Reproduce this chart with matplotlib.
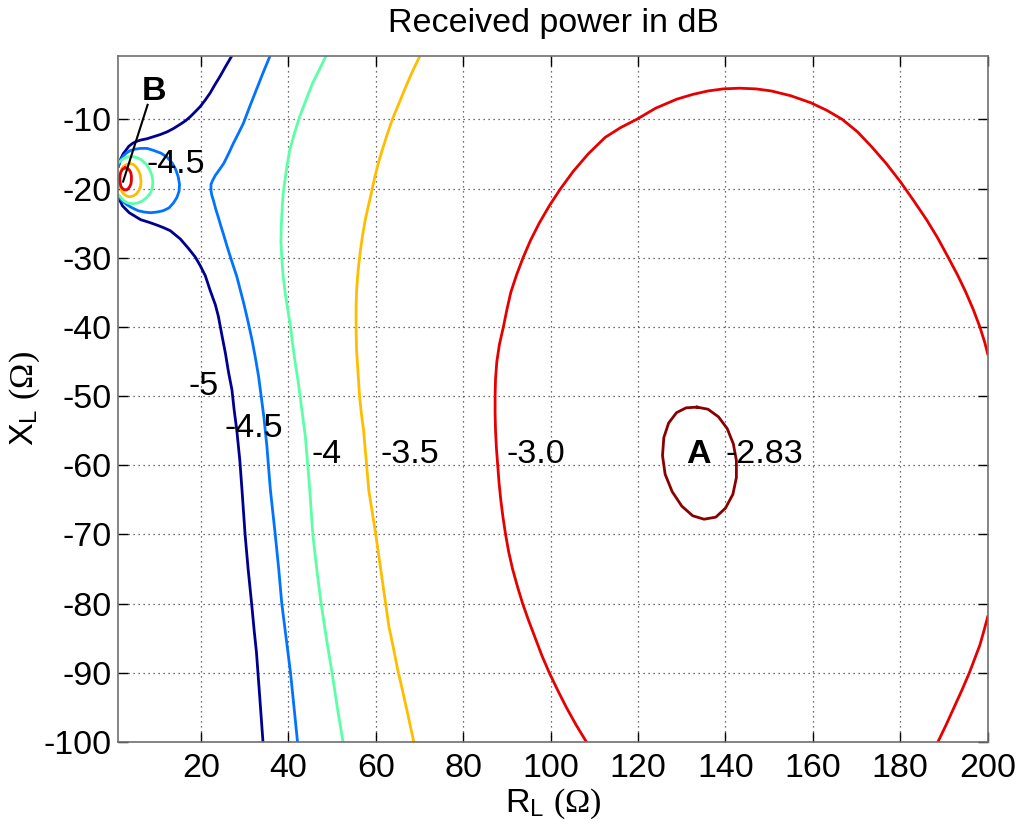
import matplotlib
matplotlib.use("Agg")
import matplotlib.pyplot as plt

plt.rcParams['font.family'] = ['Liberation Sans', 'DejaVu Sans']
plt.rcParams['mathtext.fontset'] = 'custom'
plt.rcParams['mathtext.rm'] = 'Liberation Serif'
plt.rcParams['mathtext.sf'] = 'Liberation Sans'
plt.rcParams['mathtext.it'] = 'Liberation Serif:italic'
plt.rcParams['axes.unicode_minus'] = False

# contour lines (R_L, X_L)
# -5 dB
c5_up_x = [27.05, 25.7, 24.4, 23.2, 22.1, 21.0, 19.85, 18.7, 17.6, 16.5, 15.3, 13.8, 12.3, 10.7,
           9.2, 7.7, 6.2, 5.2, 4.3, 3.5, 2.8, 2.2, 1.67, 1.15]
c5_up_y = [-0.85, -2.3, -3.76, -5.0, -6.2, -7.2, -8.15, -8.9, -9.6, -10.2, -10.7, -11.3, -11.8,
           -12.2, -12.5, -12.8, -13.0, -13.2, -13.5, -13.9, -14.5, -15.0, -15.7, -16.7]
c5_lo_x = [1.15, 2.05, 3.6, 6.2, 8.2, 10.0, 11.6, 13.0, 15.3, 17.2, 18.7, 19.8, 21.0, 22.1, 23.3,
           24.0, 24.8, 25.6, 26.3, 27.1, 27.6, 28.2, 28.9, 29.4, 30.1, 30.8, 31.6, 32.2, 32.7,
           33.4, 34.2]
c5_lo_y = [-21.3, -22.5, -23.5, -24.5, -24.9, -25.3, -25.7, -26.1, -27.3, -28.7, -29.9, -31.1,
           -32.6, -34.7, -36.8, -38.5, -41.2, -43.8, -46.5, -49.1, -52.0, -54.9, -59.3, -63.6,
           -70.0, -75.0, -80.0, -84.0, -87.0, -93.0, -100.0]
# -4.5 dB
c45_x = [35.8, 34.2, 32.7, 31.2, 29.7, 28.6, 27.4, 26.3, 25.2, 24.2, 23.3, 22.7, 22.3, 22.3,
         22.5, 22.9, 23.4, 24.0, 24.6, 25.2, 26.0, 27.1, 28.2, 29.8, 30.8, 31.7, 32.5, 33.2,
         33.8, 34.4, 35.1, 35.5, 35.9, 37.0, 37.8, 38.5, 39.5, 40.5, 41.3, 42.1]
c45_y = [-0.85, -3.3, -5.7, -8.1, -10.6, -12.0, -13.5, -15.0, -16.4, -17.3, -18.1, -18.8, -19.4,
         -20.3, -21.0, -21.8, -23.0, -24.2, -25.5, -26.7, -28.4, -30.6, -32.7, -36.6, -39.3,
         -41.9, -44.6, -47.2, -50.1, -53.0, -57.3, -60.5, -63.6, -70.0, -75.0, -80.0, -85.0,
         -90.0, -95.0, -100.0]
c45b_x = [1.15, 1.6, 2.4, 3.1, 3.9, 5.0, 6.2, 7.7, 9.2, 10.9, 12.3, 13.4, 14.2, 14.8, 15.1, 15.0,
          14.5, 13.7, 12.7, 11.4, 10.0, 8.5, 7.0, 5.6, 4.3, 3.2, 2.4, 1.7, 1.15]
c45b_y = [-16.8, -15.9, -15.2, -14.8, -14.5, -14.3, -14.2, -14.2, -14.5, -14.9, -15.5, -16.3,
          -17.2, -18.3, -19.4, -20.4, -21.3, -22.1, -22.8, -23.2, -23.4, -23.5, -23.4, -23.2,
          -22.8, -22.4, -22.0, -21.6, -21.2]
# -4 dB
c4_x = [48.6, 47.1, 45.6, 44.1, 42.6, 41.4, 40.3, 39.7, 39.2, 38.8, 38.6, 38.4, 38.3, 38.5, 38.8,
        39.3, 39.9, 40.5, 41.0, 41.6, 42.2, 42.7, 43.3, 43.9, 44.4, 44.9, 45.6, 46.5, 47.5, 48.7,
        50.0, 51.2, 52.5]
c4_y = [-0.85, -2.8, -4.7, -7.1, -9.6, -12.0, -14.5, -16.7, -18.9, -20.8, -22.8, -25.2, -27.7,
        -30.0, -32.6, -35.2, -37.6, -40.0, -42.6, -45.3, -47.7, -50.1, -53.0, -55.9, -59.7,
        -63.6, -70.0, -75.0, -80.0, -85.0, -90.0, -95.0, -100.0]
c4b_x = [1.3, 1.8, 2.5, 3.5, 4.5, 5.6, 6.5, 7.5, 8.2, 8.8, 9.0, 8.9, 8.4, 7.6, 6.6, 5.5, 4.4,
         3.3, 2.4, 1.8, 1.3]
c4b_y = [-16.2, -15.9, -15.6, -15.4, -15.4, -15.6, -15.9, -16.5, -17.2, -18.1, -19.0, -19.9,
         -20.7, -21.3, -21.8, -22.1, -22.2, -22.1, -21.8, -21.4, -21.0]
# -3.5 dB
c35_x = [70.1, 68.6, 67.2, 65.5, 63.8, 62.6, 61.5, 60.6, 59.8, 59.3, 58.8, 58.2, 57.6, 57.0, 56.5,
         56.1, 55.8, 55.6, 55.5, 55.5, 55.6, 55.9, 56.3, 56.7, 57.2, 57.8, 58.4, 59.2, 60.0,
         60.9, 61.8, 62.4, 63.0, 64.1, 65.0, 66.1, 67.4, 68.7]
c35_y = [-0.85, -2.8, -4.8, -7.4, -10.0, -12.2, -14.4, -16.3, -18.3, -19.7, -21.2, -22.8, -24.5,
         -26.7, -28.9, -31.0, -33.0, -35.0, -37.0, -40.5, -43.3, -46.2, -50.1, -52.5, -54.9,
         -59.2, -63.6, -66.8, -70.0, -74.0, -78.0, -80.6, -83.3, -86.6, -89.5, -92.5, -96.2,
         -100.0]
c35b_x = [3.7, 4.5, 5.2, 5.7, 6.1, 6.3, 6.2, 5.8, 5.2, 4.4, 3.6, 2.8, 2.2, 1.8, 1.55, 1.5, 1.55,
          1.7, 2.0, 2.5, 3.1, 3.7]
c35b_y = [-16.4, -16.5, -16.9, -17.4, -18.0, -19.0, -19.7, -20.3, -20.8, -21.1, -21.2, -21.0,
          -20.7, -20.3, -19.7, -19.0, -18.2, -17.5, -17.0, -16.7, -16.5, -16.4]
# -3.0 dB
c3_x = [108.2, 105.8, 103.6, 101.6, 99.7, 98.0, 96.5, 95.0, 93.6, 92.4, 91.3, 90.4, 89.7, 89.1,
        88.6, 88.2, 87.9, 87.6, 87.4, 87.3, 87.3, 87.4, 87.7, 88.3, 89.2, 90.0, 90.9, 92.2, 93.7,
        95.4, 97.4, 99.7, 102.3, 105.2, 108.6, 112.5, 116.0, 119.7, 124.0, 128.8, 132.5, 136.0,
        139.5, 143.2, 147.0, 150.5, 155.0, 159.5, 163.2, 166.7, 170.2, 173.5, 176.8, 180.0,
        183.0, 186.0, 188.6, 191.0, 193.1, 195.0, 196.7, 198.2, 199.3, 200.0]
c3_y = [-100.0, -97.5, -95.0, -92.5, -90.0, -87.5, -85.0, -82.5, -80.0, -77.5, -75.0, -72.5,
        -70.0, -67.5, -65.0, -62.5, -60.0, -57.5, -55.0, -52.5, -50.0, -47.5, -45.0, -42.5,
        -40.0, -37.5, -35.0, -32.5, -30.0, -27.5, -25.0, -22.5, -20.0, -17.5, -15.0, -12.6,
        -11.2, -10.0, -8.4, -7.1, -6.4, -5.9, -5.6, -5.5, -5.6, -5.9, -6.6, -7.6, -8.7, -10.0,
        -11.8, -14.0, -16.4, -19.0, -21.7, -24.5, -27.2, -30.0, -32.5, -35.0, -37.5, -40.0,
        -42.2, -43.9]
c3r_x = [200.0, 199.1, 198.2, 197.0, 195.8, 194.1, 192.3, 190.5, 188.6]
c3r_y = [-81.9, -84.0, -86.0, -88.0, -90.0, -92.5, -95.0, -97.5, -100.0]
c3b_x = [2.7, 3.2, 3.6, 3.95, 4.1, 4.1, 4.0, 3.75, 3.4, 3.0, 2.5, 2.05, 1.7, 1.5, 1.4, 1.45,
         1.7, 2.1, 2.7]
c3b_y = [-17.0, -17.1, -17.3, -17.7, -18.2, -18.8, -19.3, -19.7, -20.0, -20.2, -20.2, -20.0,
         -19.7, -19.2, -18.6, -18.1, -17.6, -17.2, -17.0]
# -2.83 dB
c283_x = [133.5, 136.0, 138.4, 140.4, 141.8, 142.5, 142.5, 141.7, 140.0, 137.8, 135.1, 132.5,
          130.0, 127.8, 126.2, 125.6, 125.9, 127.0, 128.8, 131.0, 133.5]
c283_y = [-51.6, -51.9, -53.0, -54.7, -56.9, -59.3, -61.8, -64.2, -66.2, -67.5, -67.8, -67.3,
          -65.9, -63.8, -61.3, -58.6, -56.0, -53.9, -52.4, -51.7, -51.6]

# contour labels: text, left x, baseline y
lab_text = ['-5', '-4.5', '-4', '-3.5', '-3.0', '-2.83', '-4.5']
lab_x = [17.1, 25.3, 45.4, 61.1, 90.0, 140.1, 7.6]
lab_y = [-49.9, -55.9, -59.7, -59.7, -59.7, -59.7, -17.7]

# point markers A and B
pt_text = ['A', 'B']
pt_x = [130.9, 6.45]
pt_y = [-59.7, -7.2]
b_line_x = [7.8, 2.2]
b_line_y = [-7.9, -19.0]

col5 = '#000090'
col45 = '#0073FF'
col4 = '#5CFFA6'
col35 = '#FFBD00'
col3 = '#E60000'
col283 = '#8A0000'

fs = 24.5

fig = plt.figure(figsize=(10.19, 8.35), dpi=100)
ax = fig.add_axes([0.1161, 0.1114, 0.8532, 0.8215])

lw = 2.0
ax.plot(c5_up_x, c5_up_y, color=col5, lw=lw)
ax.plot(c5_lo_x, c5_lo_y, color=col5, lw=lw)
ax.plot(c45_x, c45_y, color=col45, lw=lw)
ax.plot(c45b_x, c45b_y, color=col45, lw=lw)
ax.plot(c4_x, c4_y, color=col4, lw=lw)
ax.plot(c4b_x, c4b_y, color=col4, lw=lw)
ax.plot(c35_x, c35_y, color=col35, lw=lw)
ax.plot(c35b_x, c35b_y, color=col35, lw=lw)
ax.plot(c3_x, c3_y, color=col3, lw=lw)
ax.plot(c3r_x, c3r_y, color=col3, lw=lw)
ax.plot(c3b_x, c3b_y, color=col3, lw=lw)
ax.plot(c283_x, c283_y, color=col283, lw=lw)

for t, x, y in zip(lab_text, lab_x, lab_y):
    ax.text(x, y, t, fontsize=fs, ha='left', va='baseline')
for t, x, y in zip(pt_text, pt_x, pt_y):
    ax.text(x, y, t, fontsize=fs, fontweight='bold', ha='left', va='baseline')
ax.plot(b_line_x, b_line_y, color='black', lw=1.5)

ax.set_xlim(1.1, 200)
ax.set_ylim(-100, -0.85)
ax.set_xticks(range(20, 201, 20))
ax.set_yticks(range(-100, -9, 10))
ax.grid(True, color='#404040', linestyle=(0, (1, 3)), linewidth=0.9)
ax.tick_params(direction='in', length=7, width=1, top=True, right=True,
               labelsize=fs, colors='black')
ax.tick_params(axis='x', pad=8)
ax.tick_params(axis='y', pad=5)
for s in ax.spines.values():
    s.set_color('#707070')
    s.set_linewidth(1.2)

ax.set_title('Received power in dB', fontsize=fs, pad=17)
ax.set_xlabel(r'R$_{\mathsf{L}}$ $(\Omega)$', fontsize=fs, labelpad=2)
ax.set_ylabel(r'X$_{\mathsf{L}}$ $(\Omega)$', fontsize=fs, labelpad=1)

fig.savefig('out.png', dpi=100)
